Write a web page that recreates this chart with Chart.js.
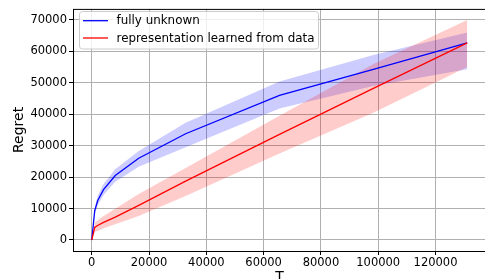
<!DOCTYPE html>
<html>
<head>
<meta charset="utf-8">
<script src="https://cdn.jsdelivr.net/npm/chart.js@4.4.1/dist/chart.umd.min.js"></script>
<style>
  html, body { margin: 0; padding: 0; background: #fff; overflow: hidden; }
  #wrap { width: 485px; height: 279px; overflow: hidden; }
</style>
</head>
<body>
<div id="wrap"><canvas id="regretChart" width="486" height="290"></canvas></div>
<script>
// horizon values (powers of two) and regret curves
const T = [0, 1024, 2048, 4096, 8192, 16384, 32768, 65536, 98304, 131072];

const unknownMean  = [0, 9300, 12500, 16000, 20500, 26000, 33800, 46000, 54300, 62700];
const unknownUpper = [0, 10300, 14000, 17800, 22500, 28300, 37300, 50400, 58800, 66000];
const unknownLower = [0, 8300, 11000, 14300, 18500, 23300, 29500, 41800, 49000, 54300];

const learnedMean  = [0, 4000, 4600, 5600, 7300, 11000, 18700, 33600, 48200, 62700];
const learnedUpper = [0, 5500, 6300, 7600, 9900, 14600, 22900, 39500, 56000, 70000];
const learnedLower = [0, 2600, 2900, 3700, 5000, 7600, 14000, 27500, 40500, 55000];

const xTicks = [0, 20000, 40000, 60000, 80000, 100000, 120000];
const yTicks = [0, 10000, 20000, 30000, 40000, 50000, 60000, 70000];

const labels = ["fully unknown", "representation learned from data"];

const pts = (ys) => T.map((t, i) => ({ x: t, y: ys[i] }));
const FONT = "'DejaVu Sans', sans-serif";

// frame + matplotlib-like legend
const framePlugin = {
	id: "frame",
	afterDraw(chart) {
		const { ctx, chartArea: a } = chart;
		ctx.save();
		ctx.strokeStyle = "#000";
		ctx.lineWidth = 1;
		ctx.strokeRect(a.left + 0.5, a.top + 0.5, a.right - a.left, a.bottom - a.top);

		// legend box
		const bx = 79.5, by = 11.5, bw = 239, bh = 37.5, r = 3;
		ctx.beginPath();
		ctx.moveTo(bx + r, by);
		ctx.arcTo(bx + bw, by, bx + bw, by + bh, r);
		ctx.arcTo(bx + bw, by + bh, bx, by + bh, r);
		ctx.arcTo(bx, by + bh, bx, by, r);
		ctx.arcTo(bx, by, bx + bw, by, r);
		ctx.closePath();
		ctx.fillStyle = "rgba(255,255,255,0.8)";
		ctx.fill();
		ctx.strokeStyle = "#cccccc";
		ctx.stroke();

		const colors = ["#0000ff", "#ff0000"];
		const rows = [20.7, 38];
		ctx.font = "11.9px " + FONT;
		ctx.textBaseline = "middle";
		ctx.textAlign = "left";
		rows.forEach((y, i) => {
			ctx.strokeStyle = colors[i];
			ctx.lineWidth = 1.3;
			ctx.beginPath();
			ctx.moveTo(83, y);
			ctx.lineTo(108, y);
			ctx.stroke();
			ctx.fillStyle = "#000";
			ctx.fillText(labels[i], 116.5, y + 0.5);
		});
		ctx.restore();
	},
};

const ctx = document.getElementById("regretChart").getContext("2d");
new Chart(ctx, {
	type: "line",
	data: {
		datasets: [
			// bands first so the lines sit on top
			{ data: pts(unknownUpper), borderWidth: 0, pointRadius: 0, fill: "+1", backgroundColor: "rgba(0,0,255,0.2)", order: 3 },
			{ data: pts(unknownLower), borderWidth: 0, pointRadius: 0, fill: false, order: 3 },
			{ data: pts(learnedUpper), borderWidth: 0, pointRadius: 0, fill: "+1", backgroundColor: "rgba(255,0,0,0.2)", order: 2 },
			{ data: pts(learnedLower), borderWidth: 0, pointRadius: 0, fill: false, order: 2 },
			{ label: labels[0], data: pts(unknownMean), borderColor: "#0000ff", borderWidth: 1.3, pointRadius: 0, fill: false, order: 1 },
			{ label: labels[1], data: pts(learnedMean), borderColor: "#ff0000", borderWidth: 1.3, pointRadius: 0, fill: false, order: 0 },
		],
	},
	options: {
		responsive: false,
		animation: false,
		layout: { padding: { top: 5, right: 0, left: 0, bottom: 0 } },
		plugins: {
			legend: { display: false },
			tooltip: { enabled: false },
		},
		scales: {
			x: {
				type: "linear",
				min: -6554,
				max: 137626,
				afterFit: (s) => { s.height = 39; },
				afterBuildTicks: (s) => { s.ticks = xTicks.map((v) => ({ value: v })); },
				grid: { color: "#b0b0b0", lineWidth: 1, tickColor: "#000", tickLength: 4 },
				border: { display: false },
				ticks: { color: "#000", font: { family: FONT, size: 11.5 }, padding: 1, maxRotation: 0, autoSkip: false, callback: (v) => String(v) },
				title: { display: true, text: "T", color: "#000", font: { family: FONT, size: 14 }, padding: { top: 0, bottom: 4.6 } },
			},
			y: {
				min: -3500,
				max: 73500,
				afterFit: (s) => { s.width = 73; },
				afterBuildTicks: (s) => { s.ticks = yTicks.map((v) => ({ value: v })); },
				grid: { color: "#b0b0b0", lineWidth: 1, tickColor: "#000", tickLength: 4 },
				border: { display: false },
				ticks: { color: "#000", font: { family: FONT, size: 11.5 }, padding: 2, autoSkip: false, callback: (v) => String(v) },
				title: { display: true, text: "Regret", color: "#000", font: { family: FONT, size: 14 }, padding: { top: 10.6, bottom: 0 } },
			},
		},
	},
	plugins: [framePlugin],
});
</script>
</body>
</html>
